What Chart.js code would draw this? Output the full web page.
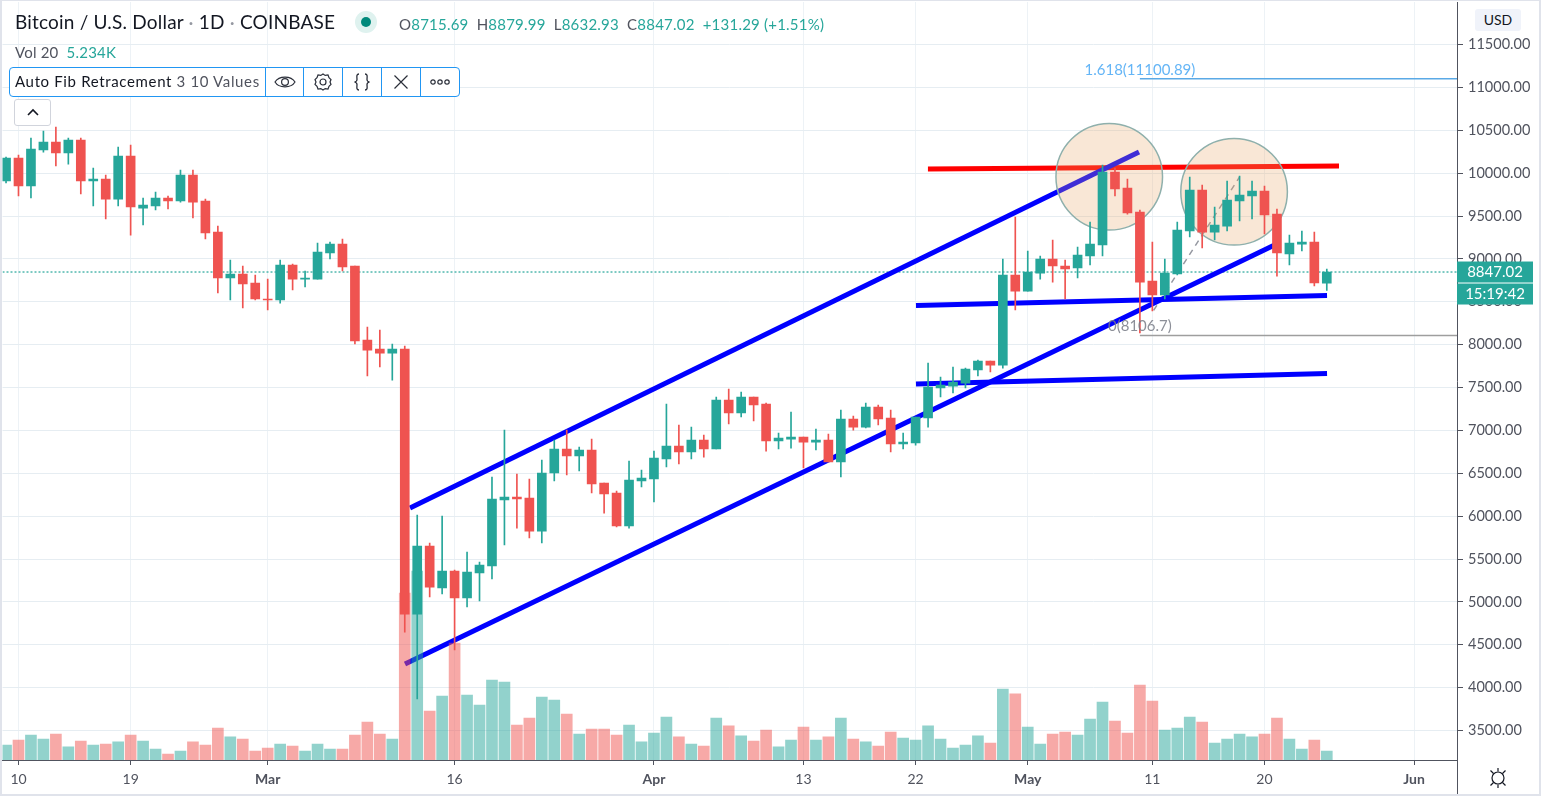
<!DOCTYPE html>
<html>
<head>
<meta charset="utf-8">
<title>Bitcoin / U.S. Dollar</title>
<script src="https://cdn.jsdelivr.net/npm/chart.js@4"></script>
<style>
    html, body { margin: 0; padding: 0; background: #fff; overflow: hidden; }
    body { width: 1541px; height: 800px; position: relative; font-family: Lato, sans-serif; color: #131722; }
    canvas { position: absolute; left: 0; top: 0; }
    .abs { position: absolute; white-space: nowrap; }
    .up { color: #26a69a; }
    .lbl { color: #50535e; }
    .stripe { position: absolute; background: #e0e3eb; }
    #pill { left: 9px; top: 67px; width: 449px; height: 28px; border: 1px solid #2196f3; border-radius: 4px; background: #fff; }
    #pill .sep { position: absolute; top: 0; width: 1px; height: 28px; background: #2196f3; }
    #pill svg { position: absolute; top: 4px; }
</style>
</head>
<body>
<canvas id="btcChart" width="1541" height="800"></canvas>

<div class="stripe" style="left:0;top:0;width:2px;height:794px"></div>
<div class="stripe" style="left:1539px;top:0;width:2px;height:794px"></div>
<div class="stripe" style="left:0;top:794px;width:1541px;height:2px"></div>
<div class="stripe" style="left:0;top:0;width:1541px;height:1px"></div>
<div class="abs" style="left:1457px;top:760px;width:1px;height:34px;background:#50535e"></div>

<div class="abs" style="left:15px;top:10px;font-size:19px;letter-spacing:0.2px">Bitcoin / U.S. Dollar <span style="color:#9598a1">·</span> 1D <span style="color:#9598a1">·</span> COINBASE</div>
<div class="abs" style="left:355px;top:11px;width:22px;height:22px;border-radius:50%;background:#dff2ef"></div>
<div class="abs" style="left:361px;top:17px;width:10px;height:10px;border-radius:50%;background:#00897b"></div>
<div class="abs lbl" style="left:399px;top:15px;font-size:15px;letter-spacing:0.22px">O<span class="up">8715.69</span>&nbsp; H<span class="up">8879.99</span>&nbsp; L<span class="up">8632.93</span>&nbsp; C<span class="up">8847.02</span>&nbsp; <span class="up">+131.29 (+1.51%)</span></div>
<div class="abs lbl" style="left:15px;top:43px;font-size:15px;letter-spacing:0.2px">Vol 20 &nbsp;<span class="up">5.234K</span></div>

<div id="pill" class="abs">
    <div class="abs" style="left:5px;top:4px;font-size:15px;letter-spacing:0.65px">Auto Fib Retracement <span style="color:#50535e">3 10 Values</span></div>
    <div class="sep" style="left:255px"></div>
    <div class="sep" style="left:293px"></div>
    <div class="sep" style="left:332px"></div>
    <div class="sep" style="left:371px"></div>
    <div class="sep" style="left:410px"></div>
    <svg style="left:264px" width="22" height="20" viewBox="0 0 22 20" fill="none" stroke="#2a2e39" stroke-width="1.2"><path d="M1 10 C5 3.5 17 3.5 21 10 C17 16.5 5 16.5 1 10 Z"/><circle cx="11" cy="10" r="3.4"/></svg>
    <svg style="left:303px" width="20" height="20" viewBox="0 0 20 20" fill="none" stroke="#2a2e39" stroke-width="1.2"><path d="M10 2 L12.2 3.4 L15 3 L16 5.6 L18 7.6 L17 10 L18 12.4 L16 14.4 L15 17 L12.2 16.6 L10 18 L7.8 16.6 L5 17 L4 14.4 L2 12.4 L3 10 L2 7.6 L4 5.6 L5 3 L7.8 3.4 Z"/><circle cx="10" cy="10" r="3"/></svg>
    <svg style="left:342px" width="20" height="20" viewBox="0 0 20 20" fill="none" stroke="#2a2e39" stroke-width="1.3"><path d="M7 2 C4 2 5 5 5 7.5 C5 9 3.5 10 2.5 10 C3.5 10 5 11 5 12.5 C5 15 4 18 7 18"/><path d="M13 2 C16 2 15 5 15 7.5 C15 9 16.5 10 17.5 10 C16.5 10 15 11 15 12.5 C15 15 16 18 13 18"/></svg>
    <svg style="left:381px" width="20" height="20" viewBox="0 0 20 20" fill="none" stroke="#2a2e39" stroke-width="1.2"><path d="M3.5 3.5 L16.5 16.5 M16.5 3.5 L3.5 16.5"/></svg>
    <svg style="left:419px" width="22" height="20" viewBox="0 0 22 20" fill="none" stroke="#2a2e39" stroke-width="1.2"><circle cx="4" cy="10" r="2.2"/><circle cx="11" cy="10" r="2.2"/><circle cx="18" cy="10" r="2.2"/></svg>
</div>
<div class="abs" style="left:14px;top:99px;width:35px;height:25px;border:1px solid #d1d4dc;border-radius:3px;background:#fff">
    <svg style="position:absolute;left:11px;top:7px" width="14" height="10" viewBox="0 0 14 10" fill="none" stroke="#131722" stroke-width="1.6"><path d="M2 8 L7 3 L12 8"/></svg>
</div>

<div class="abs" style="left:1475px;top:9px;width:46px;height:22px;background:#f0f3fa;border-radius:3px;font-size:14px;line-height:22px;text-align:center">USD</div>
<svg class="abs" style="left:1487px;top:767px" width="22" height="22" viewBox="0 0 22 22" fill="none" stroke="#131722" stroke-width="1.2"><circle cx="11" cy="11" r="6"/><path d="M11 1 V4.5 M11 17.5 V21 M3.5 3.5 L6.5 6.5 M15.5 15.5 L18.5 18.5 M18.5 3.5 L15.5 6.5 M6.5 15.5 L3.5 18.5"/></svg>

<script>
// Daily candles, first entry is 9 Feb 2020, last is 25 May 2020
const firstDay = -1;  // days relative to the 10 Feb tick
const openValues = [9908,10176,9850,10270,10363,10235,10386,9908,9932,9698,10200,9593,9617,9710,9675,9978,9675,9313,8777,8824,8719,8532,8521,8929,8765,8765,9069,9173,8917,8054,7949,7902,7949,4858,5652,5162,5360,5045,5337,5418,6188,6223,6211,5826,6503,6783,6701,6771,6386,6270,5885,6410,6433,6666,6818,6748,6888,6783,7354,7203,7389,7308,6876,6899,6923,6864,6888,6631,7133,7039,7272,7144,6841,6853,7144,7494,7517,7552,7704,7809,7762,8812,8625,8835,8999,8917,8894,9034,9162,10013,9827,9547,8742,8579,8824,9325,9803,9313,9383,9675,9733,9792,9523,9057,9173,9197,8715.69];
const highValues = [10188,10211,10410,10491,10538,10410,10410,10060,9978,10305,10328,9710,9780,9733,10036,10036,9698,9383,8987,8917,8812,8765,8987,8940,8859,9185,9197,9232,8917,8206,8171,8007,7984,6013,5687,6001,5372,5582,5465,6456,7004,6491,6433,6654,6888,7004,6806,6899,6386,6293,6643,6538,6759,7308,7063,7039,6946,7389,7482,7447,7389,7319,6969,7214,6923,7016,6958,7238,7168,7319,7296,7238,6969,7156,7786,7622,7739,7727,7821,7809,8999,9488,9092,9034,9220,8987,9139,9430,10095,10060,9932,9570,9197,8999,9430,9955,9862,9605,9908,9967,9908,9850,9582,9278,9325,9313,8879.99];
const lowValues = [9885,9733,9710,10246,10083,10106,9757,9617,9465,9617,9278,9395,9570,9582,9663,9477,9232,8602,8521,8427,8521,8404,8485,8637,8672,8765,8999,8859,8007,7634,7739,7587,4648,3867,5057,5092,4439,4940,5010,5267,5663,5861,5745,5687,6410,6480,6526,6270,6036,5873,5861,6340,6165,6573,6608,6666,6689,6783,7074,7156,7109,6759,6783,6794,6561,6771,6631,6456,7004,7028,7063,6748,6783,6829,7039,7389,7436,7494,7634,7681,7727,8404,8625,8765,8730,8532,8777,8929,9034,9733,9523,8136,8392,8532,8812,9255,9127,9220,9325,9442,9465,9290,8800,8929,9092,8684,8632.93];
const closeValues = [10176,9850,10281,10363,10235,10386,9908,9932,9698,10200,9605,9628,9710,9675,9978,9663,9302,8777,8824,8707,8532,8521,8929,8765,8777,9080,9173,8905,8042,7937,7902,7949,4858,5652,5173,5360,5045,5348,5430,6200,6223,6200,5826,6503,6783,6701,6771,6375,6258,5885,6421,6445,6678,6818,6748,6888,6783,7354,7203,7389,7296,6876,6911,6923,6864,6888,6631,7133,7039,7272,7133,6841,6864,7156,7506,7529,7564,7716,7809,7762,8812,8625,8847,8999,8917,8882,9045,9173,10013,9815,9535,8730,8579,8835,9337,9803,9313,9395,9687,9745,9792,9512,9069,9185,9197,8719,8847.02];
const volumeValues = [8.7,11.6,14.5,12.2,15.1,7.6,11.0,8.7,9.3,10.5,14.5,11.0,6.4,3.5,5.2,10.5,8.7,18.6,13.4,12.2,5.2,7.0,9.3,8.1,5.2,9.3,6.4,6.4,14.5,22.1,15.1,12.2,97.1,109.9,28.5,37.2,68.0,37.8,32.0,46.5,45.3,20.3,24.4,36.6,34.9,26.7,15.1,18.0,18.0,14.5,20.3,10.5,15.7,25.0,13.4,9.3,8.1,24.4,19.8,14.0,11.0,17.4,7.6,11.6,19.2,11.6,13.4,24.4,12.2,10.5,8.1,16.3,12.8,11.6,19.8,12.2,7.0,8.7,14.0,9.9,41.3,38.4,19.2,9.3,15.1,16.3,14.5,23.8,33.7,22.7,15.7,43.6,34.3,17.4,18.6,25.0,22.1,9.9,12.2,15.1,13.4,15.1,24.4,12.2,6.4,11.6,5.234];

const xTickDays = [0, 9, 20, 35, 51, 63, 72, 81, 91, 100, 112];
const xTickLabels = ['10', '19', 'Mar', '16', 'Apr', '13', '22', 'May', '11', '20', 'Jun'];
const monthLabels = ['Mar', 'Apr', 'May', 'Jun'];
const yTickValues = [3500, 4000, 4500, 5000, 5500, 6000, 6500, 7000, 7500, 8000, 8500, 9000, 9500, 10000, 10500, 11000, 11500];

// Drawings, as [day, price] pairs
const upperChannel = [[31.42, 6095], [89.93, 10246]];
const lowerChannel = [[31.02, 4275], [101.06, 9179]];
const upperShelf = [[72.03, 8456], [105.02, 8573]];
const lowerShelf = [[72.03, 7541], [105.02, 7663]];
const resistance = [[72.99, 10048], [105.98, 10083]];
const fibDiagonal = [[91.1, 8400], [98, 9955]];
const topCircles = [[87.54, 9958], [97.56, 9783]];

const fibZero = 8106.7;
const fibExtension = 11100.89;
const fibStartDay = 90;
const lastPrice = 8847.02;
const countdown = '15:19:42';

// Axis bounds
const dayMin = -1.284, dayMax = 115.45;
const priceMin = 3156, priceMax = 11996;
const volumeMax = 440.7;

const BULL = '#26a69a', BEAR = '#ef5350';
const FONT = 'Lato, sans-serif';

const days = openValues.map((_, i) => firstDay + i);
const candleColors = days.map((_, i) => closeValues[i] >= openValues[i] ? BULL : BEAR);
const volumeColors = candleColors.map(c => c === BULL ? 'rgba(38,166,154,0.5)' : 'rgba(239,83,80,0.5)');

function toPoints(pairs) {
    return pairs.map(p => ({ x: p[0], y: p[1] }));
}

function drawingLine(pairs, color, width, dash) {
    return {
        type: 'line',
        data: toPoints(pairs),
        yAxisID: 'y',
        borderColor: color,
        borderWidth: width,
        borderDash: dash || [],
        pointRadius: 0,
        tension: 0,
        order: 6
    };
}

function barSet(points, colors, thickness, axis, order) {
    return {
        type: 'bar',
        data: points,
        yAxisID: axis,
        backgroundColor: colors,
        borderWidth: 0,
        grouped: false,
        barPercentage: 1,
        categoryPercentage: 1,
        maxBarThickness: thickness,
        order: order
    };
}

// Price tags and fib labels follow the price scale
const labelsPlugin = {
    id: 'labelsPlugin',
    afterDraw(chart) {
        const ctx = chart.ctx;
        const x = chart.scales.x, y = chart.scales.y;
        ctx.save();
        ctx.textBaseline = 'middle';

        ctx.textAlign = 'center';
        ctx.font = '15px ' + FONT;
        ctx.fillStyle = '#64b5f6';
        ctx.fillText('1.618(' + fibExtension + ')', x.getPixelForValue(fibStartDay), y.getPixelForValue(fibExtension) - 9);
        ctx.fillStyle = 'rgba(120,123,134,0.85)';
        ctx.fillText('0(' + fibZero + ')', x.getPixelForValue(fibStartDay), y.getPixelForValue(fibZero) - 9);

        const tagY = y.getPixelForValue(lastPrice);
        ctx.fillStyle = BULL;
        ctx.fillRect(1457, tagY - 10.5, 76, 21);
        ctx.fillRect(1457, tagY + 11.5, 76, 21);
        ctx.fillStyle = '#fff';
        ctx.font = '15px ' + FONT;
        ctx.fillText(lastPrice.toFixed(2), 1495, tagY);
        ctx.fillText(countdown, 1495, tagY + 22);
        ctx.restore();
    }
};

function createChart() {
    const ctx = document.getElementById('btcChart').getContext('2d');

    const chart = new Chart(ctx, {
        type: 'bar',
        data: {
            datasets: [
                drawingLine(upperChannel, '#0000ff', 5),
                drawingLine(lowerChannel, '#0000ff', 5),
                drawingLine(upperShelf, '#0000ff', 5),
                drawingLine(lowerShelf, '#0000ff', 5),
                drawingLine(resistance, '#ff0000', 5),
                drawingLine(fibDiagonal, '#9598a1', 1.5, [6, 5]),
                drawingLine([[fibStartDay, fibZero], [dayMax, fibZero]], '#9e9e9e', 1.5),
                drawingLine([[fibStartDay, fibExtension], [dayMax, fibExtension]], '#5aa9e6', 1.5),
                drawingLine([[dayMin, lastPrice], [dayMax, lastPrice]], BULL, 1.2, [2, 2]),
                {
                    type: 'line',
                    data: toPoints(topCircles),
                    yAxisID: 'y',
                    showLine: false,
                    pointRadius: 53.3,
                    pointBackgroundColor: 'rgba(231,165,104,0.27)',
                    pointBorderColor: '#8fb0ac',
                    pointBorderWidth: 1.5,
                    order: 5
                },
                barSet(days.map((d, i) => ({ x: d, y: volumeValues[i] })), volumeColors, 11, 'yVolume', 4),
                barSet(days.map((d, i) => ({ x: d, y: [lowValues[i], highValues[i]] })), candleColors, 1, 'y', 2),
                barSet(days.map((d, i) => ({ x: d, y: [openValues[i], closeValues[i]] })), candleColors, 9, 'y', 1)
            ]
        },
        options: {
            responsive: false,
            animation: false,
            devicePixelRatio: 1,
            layout: { autoPadding: false, padding: { left: 2.5, top: 2, right: 0, bottom: 0 } },
            plugins: { legend: { display: false }, tooltip: { enabled: false } },
            scales: {
                x: {
                    type: 'linear',
                    min: dayMin,
                    max: dayMax,
                    offset: false,
                    afterBuildTicks: scale => { scale.ticks = xTickDays.map(v => ({ value: v })); },
                    afterFit: scale => { scale.height = 40; scale.paddingLeft = 0; scale.paddingRight = 0; },
                    border: { display: true, color: '#50535e' },
                    grid: { offset: false, color: '#edf2f6', tickColor: '#50535e', tickLength: 5 },
                    ticks: {
                        autoSkip: false,
                        maxRotation: 0,
                        padding: 6,
                        color: '#50535e',
                        font: c => ({
                            family: FONT,
                            size: 14,
                            weight: c.tick && monthLabels.includes(xTickLabels[xTickDays.indexOf(c.tick.value)]) ? 'bold' : 'normal'
                        }),
                        callback: v => xTickLabels[xTickDays.indexOf(v)]
                    }
                },
                y: {
                    position: 'right',
                    min: priceMin,
                    max: priceMax,
                    afterBuildTicks: scale => { scale.ticks = yTickValues.map(v => ({ value: v })); },
                    afterFit: scale => { scale.width = 84; scale.paddingTop = 0; scale.paddingBottom = 0; },
                    border: { display: true, color: '#50535e' },
                    grid: { color: '#e6edf2', tickColor: '#50535e', tickLength: 6 },
                    ticks: {
                        autoSkip: false,
                        padding: 5,
                        color: '#50535e',
                        font: { family: FONT, size: 14.5 },
                        callback: v => v.toFixed(2)
                    }
                },
                yVolume: {
                    display: false,
                    position: 'left',
                    min: 0,
                    max: volumeMax
                }
            }
        },
        plugins: [labelsPlugin]
    });
    return chart;
}

createChart();
</script>
</body>
</html>
